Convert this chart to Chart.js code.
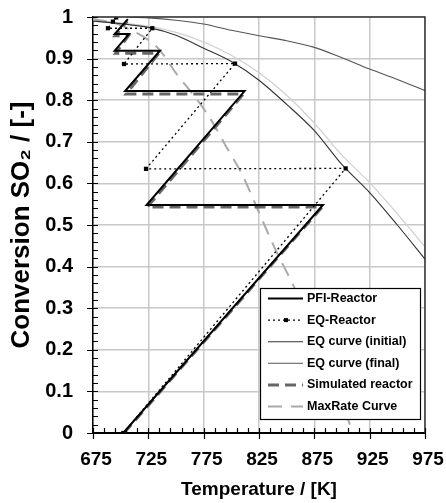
<!DOCTYPE html>
<html><head><meta charset="utf-8">
<script src="https://cdn.jsdelivr.net/npm/chart.js@4/dist/chart.umd.min.js"></script>
<style>html,body{margin:0;padding:0;background:#fff}#wrap{width:446px;height:503px;position:relative}</style>
</head><body><div id="wrap"><canvas id="c" width="446" height="503"></canvas></div>
<script>
// ---- data ----
const xTickLabels = ['675','725','775','825','875','925','975'];
const yTickLabels = ['0','0.1','0.2','0.3','0.4','0.5','0.6','0.7','0.8','0.9','1'];

const pfiT = [702.4, 882.8, 723.4, 812, 704, 735.5, 694.6, 707.5, 694.6, 706.5];
const pfiX = [0, 0.548, 0.548, 0.822, 0.822, 0.919, 0.919, 0.959, 0.959, 0.995];

const eqrT = [702.4, 903.3, 722.9, 803.3, 703, 728.6, 688.5, 693, 696];
const eqrX = [0, 0.636, 0.635, 0.888, 0.887, 0.973, 0.973, 0.989, 0.999];

const eqInitT = [675, 700, 725, 750, 775, 800, 825, 850, 875, 900, 925, 950, 975];
const eqInitX = [0.99, 0.984, 0.975, 0.956, 0.925, 0.893, 0.848, 0.79, 0.727, 0.645, 0.578, 0.5, 0.418];

const eqFinalT = [705, 725, 750, 775, 800, 825, 850, 875, 900, 925, 950, 975];
const eqFinalX = [1.0, 0.998, 0.992, 0.983, 0.968, 0.955, 0.943, 0.927, 0.902, 0.875, 0.85, 0.823];

const eqLightT = [675, 700, 725, 750, 775, 800, 825, 850, 875, 900, 925, 950, 975];
const eqLightX = [0.992, 0.986, 0.978, 0.963, 0.94, 0.908, 0.866, 0.812, 0.745, 0.668, 0.602, 0.527, 0.448];

const simT = [703, 882, 724, 811, 705, 734.5, 695.5, 707, 695, 706];
const simX = [0, 0.543, 0.543, 0.815, 0.815, 0.913, 0.913, 0.955, 0.955, 0.99];

const maxRateT = [675, 690, 700, 714.5, 725, 735.5, 750, 765, 780, 795, 810, 825, 840, 856, 870, 885, 898, 910];
const maxRateX = [0.995, 0.988, 0.98, 0.962, 0.945, 0.92, 0.865, 0.815, 0.76, 0.69, 0.62, 0.53, 0.44, 0.355, 0.27, 0.17, 0.085, 0];

const seriesLabels = ['PFI-Reactor', 'EQ-Reactor', 'EQ curve (initial)', 'EQ curve (final)', 'Simulated reactor', 'MaxRate Curve'];

const pts = (t, x) => t.map((v, i) => ({x: v, y: x[i]}));
const FONT = '"Liberation Sans", Arial, sans-serif';

const datasets = [
  {label: seriesLabels[0], data: pts(pfiT, pfiX), borderColor: '#000', borderWidth: 2, pointRadius: 0, showLine: true, inLegend: true},
  {label: seriesLabels[1], data: pts(eqrT, eqrX), borderColor: '#000', borderWidth: 1.3, borderDash: [2, 3], pointStyle: 'rect', pointRadius: 3, pointBackgroundColor: '#000', pointBorderColor: '#000', pointBorderWidth: 0, showLine: true, inLegend: true},
  {label: seriesLabels[2], data: pts(eqInitT, eqInitX), borderColor: '#333', borderWidth: 1.1, pointRadius: 0, showLine: true, tension: 0.3, inLegend: true},
  {label: seriesLabels[3], data: pts(eqFinalT, eqFinalX), borderColor: '#555', borderWidth: 1.1, pointRadius: 0, showLine: true, tension: 0.3, inLegend: true},
  {label: seriesLabels[4], data: pts(simT, simX), borderColor: '#666', borderWidth: 3, borderDash: [11, 6], pointRadius: 0, showLine: true, inLegend: true},
  {label: seriesLabels[5], data: pts(maxRateT, maxRateX), borderColor: '#aaa', borderWidth: 2, borderDash: [14, 9], pointRadius: 0, showLine: true, tension: 0.3, inLegend: true},
  {label: '', data: pts(eqLightT, eqLightX), borderColor: '#cfcfcf', borderWidth: 1.2, pointRadius: 0, showLine: true, tension: 0.3, inLegend: false}
];

const framePlugin = {
  id: 'frame',
  afterDatasetsDraw(chart) {
    const {ctx, chartArea: a, scales: {x, y}} = chart;
    ctx.save();
    ctx.strokeStyle = '#333';
    ctx.lineWidth = 1.5;
    ctx.beginPath();
    ctx.moveTo(a.left, a.top); ctx.lineTo(a.right, a.top); ctx.lineTo(a.right, a.bottom);
    ctx.stroke();
    ctx.strokeStyle = '#000';
    ctx.lineWidth = 1.2;
    ctx.beginPath();
    for (let t = 675; t <= 975.01; t += 10) {
      const px = Math.round(x.getPixelForValue(t)) + 0.5;
      const major = Math.abs(((t - 675) % 50)) < 0.01;
      ctx.moveTo(px, a.bottom - 5);
      ctx.lineTo(px, a.bottom + (major ? 6 : 0));
    }
    for (let k = 0; k <= 50; k++) {
      const py = Math.round(y.getPixelForValue(k * 0.02)) + 0.5;
      const major = k % 5 === 0;
      ctx.moveTo(a.left + 5, py);
      ctx.lineTo(a.left - (major ? 6 : 0), py);
    }
    ctx.stroke();
    ctx.restore();
  },
  afterDraw(chart) {
    const {ctx, chartArea: a} = chart;
    const bx = a.right - 165, by = a.bottom - 145, bw = 160, bh = 131;
    ctx.save();
    ctx.fillStyle = '#fff';
    ctx.fillRect(bx, by, bw, bh);
    ctx.strokeStyle = '#000';
    ctx.lineWidth = 1.2;
    ctx.strokeRect(bx + 0.5, by + 0.5, bw, bh);
    ctx.font = 'bold 12.5px ' + FONT;
    ctx.textBaseline = 'middle';
    ctx.fillStyle = '#000';
    const items = chart.data.datasets.filter(d => d.inLegend);
    items.forEach((d, i) => {
      const cy = by + 10.5 + i * 21.6;
      ctx.save();
      ctx.strokeStyle = d.borderColor;
      ctx.lineWidth = d.borderWidth;
      ctx.setLineDash(d.borderDash || []);
      ctx.beginPath();
      ctx.moveTo(bx + 8, cy); ctx.lineTo(bx + 43, cy);
      ctx.stroke();
      if (d.pointRadius > 0) {
        ctx.fillStyle = d.pointBackgroundColor;
        ctx.fillRect(bx + 24, cy - 2, 4, 4);
      }
      ctx.restore();
      ctx.fillText(d.label, bx + 47, cy);
    });
    ctx.restore();
  }
};

new Chart(document.getElementById('c'), {
  type: 'scatter',
  data: {datasets},
  options: {
    responsive: false,
    animation: false,
    devicePixelRatio: 1,
    layout: {padding: {top: 17, right: 21, left: 0, bottom: 0}},
    plugins: {legend: {display: false}, tooltip: {enabled: false}},
    scales: {
      x: {
        type: 'linear', min: 675, max: 975,
        ticks: {stepSize: 50, autoSkip: false, maxRotation: 0, color: '#000', padding: 15, labelOffset: 3,
          font: {family: FONT, size: 19, weight: 'bold'},
          callback: (v, i) => xTickLabels[i]},
        grid: {color: '#c8c8c8', lineWidth: 1.5, drawTicks: false},
        border: {color: '#000', width: 2},
        title: {display: true, text: 'Temperature / [K]', color: '#000',
          font: {family: FONT, size: 19, weight: 'bold'}, padding: {top: 0, bottom: 2}},
        afterFit: s => { s.height = 70; s.paddingLeft = 0; s.paddingRight = 0; }
      },
      y: {
        type: 'linear', min: 0, max: 1,
        ticks: {stepSize: 0.1, autoSkip: false, color: '#000', padding: 20,
          font: {family: FONT, size: 20, weight: 'bold'},
          callback: (v, i) => yTickLabels[i]},
        grid: {color: '#c8c8c8', lineWidth: 1.5, drawTicks: false},
        border: {color: '#000', width: 1.5},
        title: {display: true, text: 'Conversion SO\u2082 / [-]', color: '#000',
          font: {family: FONT, size: 26, weight: 'bold'}, padding: {top: 6, bottom: 0}},
        afterFit: s => { s.width = 93; s.paddingTop = 0; s.paddingBottom = 0; }
      }
    }
  },
  plugins: [framePlugin]
});
</script></body></html>
